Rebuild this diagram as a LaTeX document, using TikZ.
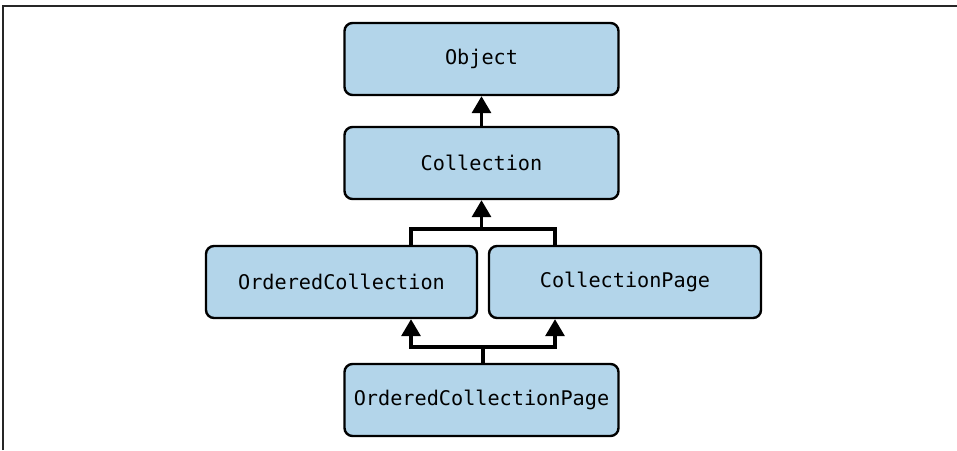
\documentclass[tikz,border=0pt]{standalone}
\usepackage{fontspec}
\setmonofont{DejaVu Sans Mono}
\usepackage{tikz}
\usetikzlibrary{arrows.meta,positioning}
\usetikzlibrary{calc}
\definecolor{boxblue}{RGB}{179,213,234}

\begin{document}
\begin{tikzpicture}[x=1pt,y=1pt,
  cls/.style={draw=black,line width=2.4pt,fill=boxblue,rounded corners=8pt,
    minimum width=274pt,minimum height=72pt,inner sep=0pt,
    font=\ttfamily\fontsize{20.2}{24}\selectfont},
  inherit/.style={line width=3.3pt,-{Triangle[width=19pt,length=17pt]}},
  link/.style={line width=3.3pt}]
\useasboundingbox (0,0) rectangle (957,450);
\draw[line width=1.3pt,black!85] (3,0) -- (3,444) -- (957,444);
\node[cls] (obj) at (481.5,391) {Object};
\node[cls] (coll) at (481.5,287) {Collection};
\node[cls,minimum width=271pt] (ordcoll) at (341.5,168) {OrderedCollection};
\node[cls,minimum width=272pt] (collpage) at (625,168) {CollectionPage};
\node[cls] (ordpage) at (481.5,50) {OrderedCollectionPage};
\coordinate (lefttap) at (411,0);
\coordinate (righttap) at (555,0);
\coordinate (upjoin) at (481.5,221);
\coordinate (lowjoin) at (483,103);
\draw[inherit] (coll.north) -- (obj.south);
\draw[link] (ordcoll.north -| lefttap) |- (upjoin) -| (collpage.north -| righttap);
\draw[inherit] (upjoin) -- (coll.south);
\draw[link] (ordpage.north -| lowjoin) -- (lowjoin);
\draw[inherit] (lowjoin) -| (ordcoll.south -| lefttap);
\draw[inherit] (lowjoin) -| (collpage.south -| righttap);
\end{tikzpicture}
\end{document}
